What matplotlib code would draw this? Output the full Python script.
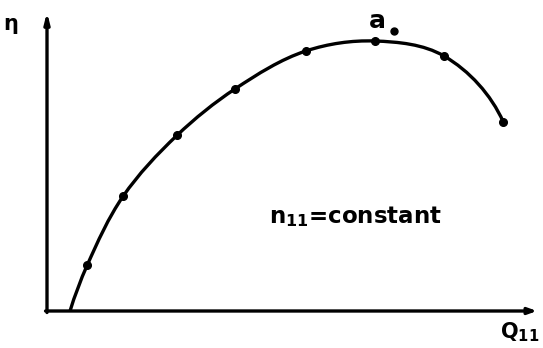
import numpy as np
import matplotlib
matplotlib.use("Agg")
import matplotlib.pyplot as plt
from matplotlib.path import Path
from matplotlib.patches import PathPatch

# Efficiency curve at constant unit speed (arbitrary units, 0-100)
q11_curve = [4.7, 8.2, 15.5, 26.5, 38.4, 52.9, 66.9, 81.0, 93.1]
eta_curve = [0.0, 15.3, 38.3, 58.7, 74.3, 87.0, 90.3, 85.3, 63.3]
# measured points (the curve's starting point on the axis is not a measurement)
q11_points = q11_curve[1:]
eta_points = eta_curve[1:]
# best-efficiency point a0
q11_best, eta_best = 66.9, 90.3

W, H = 543, 348
AX_L, AX_R, AX_B, AX_T = 47, 537, 311, 12      # axes box in pixels
SX = (AX_R - AX_L) / 100.0                       # pixels per x unit
SY = (AX_B - AX_T) / 100.0                       # pixels per y unit


def smooth_path(xs, ys):
    """Bezier path through all vertices, tangents from neighbouring chords."""
    p = np.column_stack([np.asarray(xs) * SX, np.asarray(ys) * SY])
    n = len(p)
    unit = lambda v: v / np.linalg.norm(v)
    d = np.zeros_like(p)
    for i in range(1, n - 1):
        d[i] = unit(unit(p[i + 1] - p[i]) + unit(p[i] - p[i - 1]))
    c0 = unit(p[1] - p[0])
    d[0] = 2 * np.dot(c0, d[1]) * c0 - d[1]
    c1 = unit(p[-1] - p[-2])
    d[-1] = 2 * np.dot(c1, d[-2]) * c1 - d[-2]
    verts = [p[0]]
    codes = [Path.MOVETO]
    for i in range(n - 1):
        L = np.linalg.norm(p[i + 1] - p[i])
        verts += [p[i] + d[i] * L / 3, p[i + 1] - d[i + 1] * L / 3, p[i + 1]]
        codes += [Path.CURVE4] * 3
    verts = np.array(verts) / [SX, SY]
    return Path(verts, codes)


fig = plt.figure(figsize=(W / 100, H / 100), dpi=100)
ax = fig.add_axes([AX_L / W, (H - AX_B) / H, (AX_R - AX_L) / W, (AX_B - AX_T) / H])
ax.set_xlim(0, 100)
ax.set_ylim(0, 100)
ax.axis("off")

lw = 2.4
# axes with arrowheads
ax.annotate("", xy=(100, 0), xytext=(-0.3, 0),
            arrowprops=dict(arrowstyle="-|>,head_length=0.5,head_width=0.18",
                            lw=lw, color="black", shrinkA=0, shrinkB=0),
            annotation_clip=False)
ax.annotate("", xy=(0, 100), xytext=(0, -0.5),
            arrowprops=dict(arrowstyle="-|>,head_length=0.6,head_width=0.15",
                            lw=lw, color="black", shrinkA=0, shrinkB=0),
            annotation_clip=False)

# smooth efficiency curve
ax.add_patch(PathPatch(smooth_path(q11_curve, eta_curve), fill=False,
                       lw=lw, edgecolor="black", capstyle="round"))
ax.plot(q11_points, eta_points, "o", color="black", ms=5.5, clip_on=False)

font = dict(family="DejaVu Sans", weight="bold", color="black")
ax.text(-7.5, 96, "η", fontsize=15, ha="center", va="center", **font)
ax.text(q11_best + 0.5, eta_best + 2.6, "a", fontsize=18, ha="center",
        va="bottom", **font)
ax.plot([q11_best + 3.9], [eta_best + 3.5], "o", color="black", ms=5)
ax.text(45.3, 31.5, r"n$_{\mathbf{11}}$=constant", fontsize=16.5,
        ha="left", va="center", **font)
ax.text(96.5, -7, r"Q$_{\mathbf{11}}$", fontsize=15, ha="center",
        va="center", **font)

fig.savefig("out.png", dpi=100, facecolor="white")
